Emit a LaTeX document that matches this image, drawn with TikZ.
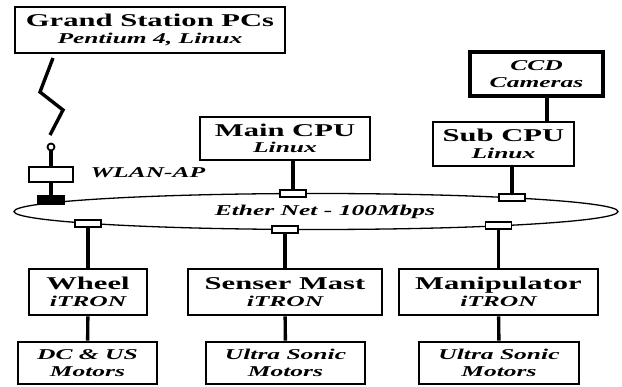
\documentclass[tikz,border=0pt]{standalone}
\usepackage{fontspec}
\setmainfont[FakeStretch=1.7]{Liberation Serif}
\newcommand{\boxtitle}[1]{{\fontsize{18}{16.5}\selectfont\bfseries #1}}
\newcommand{\boxsub}[1]{{\fontsize{15}{16.5}\selectfont\bfseries\itshape #1}}
\begin{document}
\begin{tikzpicture}[x=1pt, y=-1pt]
        % Styles
        \tikzstyle{unit} = [rectangle, draw=black, line width=2.6pt, fill=white, align=center, inner sep=0pt, font=\fontsize{18}{16.5}\selectfont]
        \tikzstyle{port} = [rectangle, draw=black, line width=1.8pt, fill=white, minimum width=26pt, minimum height=7pt, inner sep=0pt]
        \tikzstyle{link} = [line width=3.4pt]
        \useasboundingbox (0,0) rectangle (622,387);

        % Boxes
        \node (ground) [unit, minimum width=270pt, minimum height=46pt] at (150,30) {\boxtitle{Grand Station PCs}\\\boxsub{Pentium 4, Linux}};
        \node (maincpu) [unit, minimum width=170pt, minimum height=43pt] at (285,138.5) {\boxtitle{Main CPU}\\\boxsub{Linux}};
        \node (ccd) [unit, line width=3.4pt, minimum width=133pt, minimum height=44pt] at (536.5,74) {\boxsub{CCD}\\\boxsub{Cameras}};
        \node (subcpu) [unit, minimum width=141pt, minimum height=44pt] at (503.5,144) {\boxtitle{Sub CPU}\\\boxsub{Linux}};
        \node (wheel) [unit, minimum width=118pt, minimum height=46pt] at (88,292) {\boxtitle{Wheel}\\\boxsub{iTRON}};
        \node (senser) [unit, minimum width=194pt, minimum height=46pt] at (285,292) {\boxtitle{Senser Mast}\\\boxsub{iTRON}};
        \node (manip) [unit, minimum width=199pt, minimum height=46pt] at (498.5,292) {\boxtitle{Manipulator}\\\boxsub{iTRON}};
        \node (dcmotor) [unit, minimum width=139pt, minimum height=42pt] at (87.5,363) {\boxsub{DC \& US}\\\boxsub{Motors}};
        \node (usmotor) [unit, minimum width=159pt, minimum height=42pt] at (285.5,363) {\boxsub{Ultra Sonic}\\\boxsub{Motors}};
        \node (usmotorb) [unit, minimum width=160pt, minimum height=42pt] at (499,363) {\boxsub{Ultra Sonic}\\\boxsub{Motors}};

        % Ethernet ring
        \draw [line width=1.3pt] (316,211.5) ellipse [x radius=302, y radius=18];
        \node (ether) at (325,212) {\boxsub{Ether Net - 100Mbps}};

        % Ports on the ring
        \node (apport) [port, fill=black, minimum height=9pt] at (51,200) {};
        \node (mainport) [port] at (293,193.6) {};
        \node (subport) [port] at (512,197.8) {};
        \node (wheelport) [port] at (88,223.3) {};
        \node (senserport) [port] at (285,229.4) {};
        \node (manipport) [port] at (498.5,225.9) {};

        % Wireless access point
        \node (wlan) [rectangle, draw=black, line width=2.2pt, minimum width=44pt, minimum height=15pt, inner sep=0pt] at (51,174.5) {};
        \node (ant) [circle, draw=black, line width=1.8pt, fill=white, minimum size=7pt, inner sep=0pt] at (51,147) {};
        \node (wlantext) [anchor=west] at (87,173) {\boxsub{WLAN-AP}};
        \coordinate (ztop) at (53,58);
        \coordinate (zbot) at (50,135);
        \draw [link] (ztop) -- ++(-13,34) -- ++(23,18) -- (zbot);
        \draw [link] (ant) -- (wlan);
        \draw [link] (wlan) -- (apport);

        % Links
        \draw [link] (mainport.north) -- (mainport.north |- maincpu.south);
        \draw [link] (subport.north) -- (subport.north |- subcpu.south);
        \draw [link] (subcpu.north -| 547,0) -- (ccd.south -| 547,0);
        \draw [link] (wheelport) -- (wheel);
        \draw [link] (senserport) -- (senser);
        \draw [link] (manipport) -- (manip);
        \draw [link] (wheel) -- (dcmotor);
        \draw [link] (senser) -- (usmotor);
        \draw [link] (manip) -- (usmotorb);
\end{tikzpicture}
\end{document}
